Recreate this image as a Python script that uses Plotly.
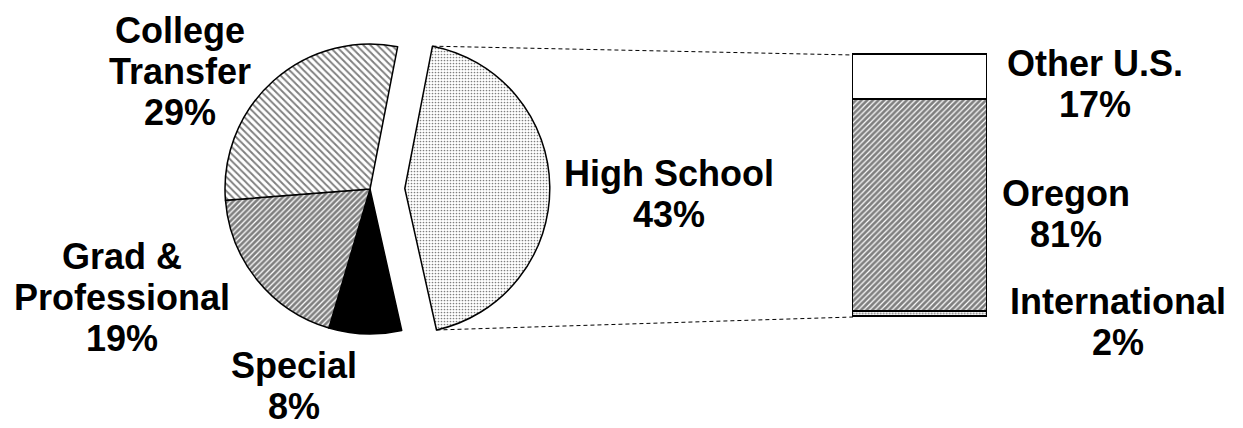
import math
import plotly.graph_objects as go

W, H = 1243, 428          # browser window
OFF = 8                   # default page (body) margin in the browser
FW, FH = W - OFF, H - OFF # figure size so it fits the window exactly

# ---------------- data ----------------
pie_categories = ["High School", "Special", "Grad &\nProfessional", "College\nTransfer"]
pie_values = [43, 8, 19, 29]
bar_categories = ["International", "Oregon", "Other U.S."]
bar_values = [2, 81, 17]

# ---------------- styles / layout constants ----------------
FONT = dict(family="Liberation Sans, Arial, Helvetica, sans-serif", size=36, color="black", weight="bold")
LINE_GAP = 41

PIE_CX, PIE_CY, PIE_R = 370, 189, 145      # pixel centre / radius of the pie (window coords)
PULL = 0.24
ROT = 11
pie_fill = ["white", "black", "white", "white"]
pie_shape = [".", "", "/", "\\"]
pie_psize = [3, 8, 4, 5]
pie_solid = [0.25, 0.0, 0.68, 0.38]

BAR_X0, BAR_X1 = 853, 987
BAR_TOP, BAR_BOT = 55, 317
PAD = 0.05                                 # axis padding so bar outlines are not clipped
bar_fill = ["white", "white", "white"]
bar_shape = [".", "/", ""]
bar_psize = [3, 4, 8]
bar_solid = [0.3, 0.7, 0.0]

# label positions (window pixel centres of each text block)
pie_label_pos = [(669, 194), (294, 386), (122, 297), (180, 71)]
bar_label_pos = [(1118, 322), (1066, 214), (1095, 84)]


def px2paper(x, y):
    return (x - OFF) / FW, 1 - (y - OFF) / FH


fig = go.Figure()

# ---------------- pie ----------------
side = 2 * PIE_R * (1 + PULL)
(dx0, dy1), (dx1, dy0) = px2paper(PIE_CX - side / 2, PIE_CY - side / 2), px2paper(PIE_CX + side / 2, PIE_CY + side / 2)

fig.add_trace(go.Pie(
    labels=[c.replace("\n", " ") for c in pie_categories],
    values=pie_values,
    sort=False,
    direction="clockwise",
    rotation=ROT,
    pull=[PULL, 0, 0, 0],
    textinfo="none",
    hoverinfo="label+percent",
    showlegend=False,
    domain=dict(x=[dx0, dx1], y=[dy0, dy1]),
    marker=dict(
        colors=pie_fill,
        line=dict(color="black", width=1.5),
        pattern=dict(shape=pie_shape, size=pie_psize, solidity=pie_solid,
                     fgcolor="black", fillmode="overlay"),
    ),
))

# ---------------- stacked bar ----------------
for cat, val, fc, sh, ps, so in zip(bar_categories, bar_values, bar_fill, bar_shape, bar_psize, bar_solid):
    fig.add_trace(go.Bar(
        x=[0], y=[val], name=cat, width=1, showlegend=False,
        marker=dict(color=fc, line=dict(color="black", width=1.5),
                    pattern=dict(shape=sh, size=ps, solidity=so, fgcolor="black", fillmode="overlay")),
    ))

total_bar = sum(bar_values)
bw = BAR_X1 - BAR_X0
bh = BAR_BOT - BAR_TOP
bx0, by0 = px2paper(BAR_X0 - PAD * bw, BAR_BOT + PAD * bh)
bx1, by1 = px2paper(BAR_X1 + PAD * bw, BAR_TOP - PAD * bh)

fig.update_layout(
    width=FW, height=FH,
    margin=dict(l=0, r=0, t=0, b=0),
    paper_bgcolor="white", plot_bgcolor="rgba(0,0,0,0)",
    barmode="stack", bargap=0,
    xaxis=dict(domain=[bx0, bx1], range=[-0.5 - PAD, 0.5 + PAD], visible=False, fixedrange=True),
    yaxis=dict(domain=[by0, by1], range=[-PAD * total_bar, total_bar * (1 + PAD)], visible=False, fixedrange=True),
)


# ---------------- labels ----------------
def add_label(lines, cx, cy):
    n = len(lines)
    for i, line in enumerate(lines):
        y = cy + (i - (n - 1) / 2) * LINE_GAP
        px, py = px2paper(cx, y)
        fig.add_annotation(x=px, y=py, xref="paper", yref="paper", text=line,
                           showarrow=False, xanchor="center", yanchor="middle", font=FONT)


for cat, val, (lx, ly) in zip(pie_categories, pie_values, pie_label_pos):
    add_label(cat.split("\n") + [f"{val}%"], lx, ly)
for cat, val, (lx, ly) in zip(bar_categories, bar_values, bar_label_pos):
    add_label(cat.split("\n") + [f"{val}%"], lx, ly)

# ---------------- connector lines (exploded slice corners -> bar) ----------------
tot = sum(pie_values)
a0 = math.radians(ROT)
a1 = math.radians(ROT + 360 * pie_values[0] / tot)
amid = (a0 + a1) / 2
ox, oy = PULL * PIE_R * math.sin(amid), -PULL * PIE_R * math.cos(amid)
c_top = (PIE_CX + ox + PIE_R * math.sin(a0), PIE_CY + oy - PIE_R * math.cos(a0))
c_bot = (PIE_CX + ox + PIE_R * math.sin(a1), PIE_CY + oy - PIE_R * math.cos(a1))

for (sx, sy), ey in [(c_top, BAR_TOP), (c_bot, BAR_BOT)]:
    x0, y0 = px2paper(sx, sy)
    x1, y1 = px2paper(BAR_X0, ey)
    fig.add_shape(type="line", xref="paper", yref="paper", x0=x0, y0=y0, x1=x1, y1=y1,
                  line=dict(color="black", width=1, dash="4px,3px"))

fig.write_html("out.html")
